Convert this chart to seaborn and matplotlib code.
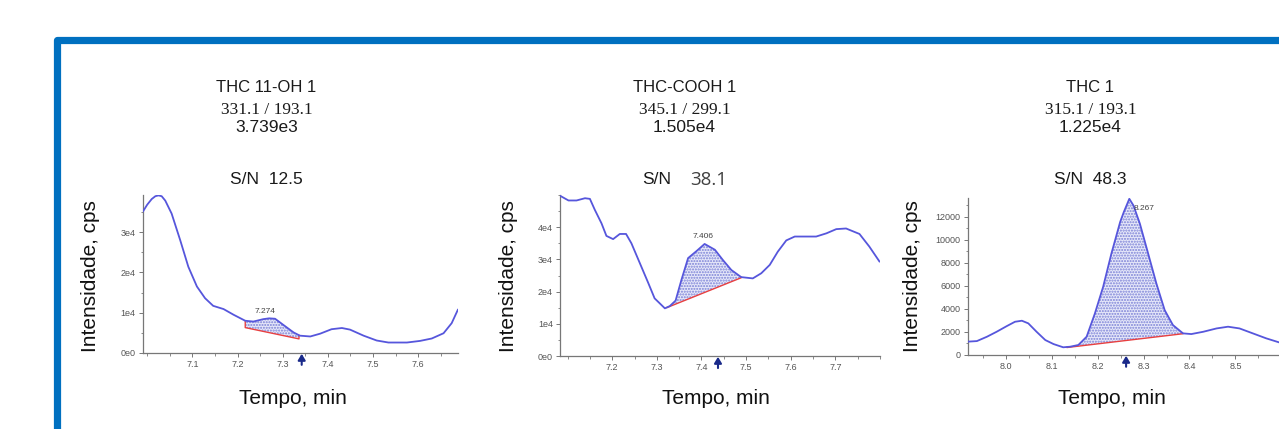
import numpy as np
import pandas as pd
import matplotlib
matplotlib.use("Agg")
import matplotlib.pyplot as plt
import seaborn as sns
from matplotlib.lines import Line2D
from matplotlib.transforms import IdentityTransform, blended_transform_factory
from matplotlib.ticker import MultipleLocator, FixedLocator

# ---------------- data ----------------
names = ["THC 11-OH 1", "THC-COOH 1", "THC 1"]
transitions = ["331.1 / 193.1", "345.1 / 299.1", "315.1 / 193.1"]
areas = ["3.739e3", "1.505e4", "1.225e4"]
sn_values = ["12.5", "38.1", "48.3"]
rt_labels = ["7.274", "7.406", "8.267"]

t1 = [6.990, 7.000, 7.010, 7.018, 7.025, 7.032, 7.040, 7.054, 7.073, 7.091, 7.110,
      7.128, 7.146, 7.169, 7.191, 7.217, 7.235, 7.257, 7.270, 7.283, 7.301, 7.324,
      7.338, 7.361, 7.383, 7.408, 7.431, 7.449, 7.479, 7.508, 7.534, 7.575, 7.604,
      7.630, 7.656, 7.674, 7.688]
i1 = [35000, 36800, 38200, 38900, 39100, 38900, 37800, 34600, 28000, 21400, 16500,
      13600, 11700, 10900, 9500, 8000, 7800, 8400, 8600, 8500, 7000, 5100,
      4300, 4100, 4800, 5900, 6200, 5800, 4300, 3100, 2600, 2600, 3000,
      3600, 4900, 7400, 10800]

t2 = [7.084, 7.102, 7.120, 7.139, 7.150, 7.161, 7.176, 7.187, 7.202, 7.217, 7.231,
      7.243, 7.262, 7.281, 7.295, 7.318, 7.329, 7.342, 7.355, 7.370, 7.389, 7.407,
      7.430, 7.448, 7.467, 7.489, 7.515, 7.534, 7.553, 7.571, 7.590, 7.609, 7.635,
      7.657, 7.680, 7.702, 7.724, 7.754, 7.776, 7.799]
i2 = [49700, 48300, 48300, 49000, 48800, 45400, 41200, 37300, 36300, 37900, 37900,
      35000, 28800, 22600, 17900, 14800, 15500, 17200, 23600, 30400, 32600, 34800,
      33000, 29800, 26700, 24500, 24100, 25700, 28300, 32400, 35900, 37100, 37100,
      37100, 38100, 39400, 39600, 37900, 34000, 29300]

t3 = [7.917, 7.937, 7.959, 7.980, 8.002, 8.020, 8.035, 8.049, 8.067, 8.086, 8.104,
      8.125, 8.140, 8.158, 8.176, 8.194, 8.212, 8.230, 8.249, 8.257, 8.269, 8.278,
      8.292, 8.310, 8.328, 8.346, 8.364, 8.386, 8.404, 8.430, 8.459, 8.484, 8.509,
      8.538, 8.567, 8.595]
i3 = [1160, 1210, 1590, 2020, 2510, 2890, 2980, 2750, 2020, 1300, 950,
      670, 720, 870, 1590, 3610, 5930, 8820, 11560, 12430, 13580, 13000,
      11420, 8820, 6210, 3900, 2600, 1880, 1820, 2020, 2310, 2460, 2310,
      1880, 1450, 1100]

times = [t1, t2, t3]
intens = [i1, i2, i3]

peak_start = [7.217, 7.322, 8.133]
peak_end = [7.336, 7.489, 8.386]
base_start = [6300, 15000, 650]
base_end = [3500, 24300, 1850]
label_x = [7.261, 7.404, 8.301]
label_y = [10300, 37100, 12700]
arrow_x = [7.342, 7.437, 8.262]

xticks = [[7.1, 7.2, 7.3, 7.4, 7.5, 7.6],
          [7.2, 7.3, 7.4, 7.5, 7.6, 7.7],
          [8.0, 8.1, 8.2, 8.3, 8.4, 8.5]]
yticks = [[0, 10000, 20000, 30000],
          [0, 10000, 20000, 30000, 40000],
          [0, 2000, 4000, 6000, 8000, 10000, 12000]]
ytick_labels = [["0e0", "1e4", "2e4", "3e4"],
                ["0e0", "1e4", "2e4", "3e4", "4e4"],
                ["0", "2000", "4000", "6000", "8000", "10000", "12000"]]
xlims = [(6.990, 7.688), (7.083, 7.800), (7.917, 8.595)]
ylims = [(0, 39200), (0, 50000), (0, 13650)]

# ---------------- layout ----------------
W, H = 1279, 429
sns.set_theme(style="white")
plt.rcParams["font.family"] = ["Liberation Sans", "DejaVu Sans"]

fig = plt.figure(figsize=(W / 100, H / 100), dpi=100)
fig.patch.set_facecolor("white")

# axes boxes in pixel coords: left, right, top, bottom
boxes = [(142.7, 458, 195, 353), (560, 880, 195, 356), (967.7, 1279, 198, 355)]
title_x = [266.5, 684.5, 1090.5]
ylabel_x = [90, 509, 913]
xlabel_x = [292.5, 716, 1112]

line_col = "#5656dc"
axis_col = "#777777"
tick_col = "#555555"


def fy(py):
    return 1 - py / H


for k in range(3):
    l, r, t, b = boxes[k]
    ax = fig.add_axes([l / W, fy(b), (r - l) / W, (b - t) / H])
    df = pd.DataFrame({"t": times[k], "i": intens[k]})
    sns.lineplot(data=df, x="t", y="i", ax=ax, color=line_col, lw=1.3,
                 estimator=None, sort=True, zorder=3)

    # integrated peak area
    tt = np.array(times[k])
    ii = np.array(intens[k])
    mask = (tt > peak_start[k]) & (tt < peak_end[k])
    xs = np.concatenate([[peak_start[k]], tt[mask], [peak_end[k]]])
    ys = np.interp(xs, tt, ii)
    bl = np.interp(xs, [peak_start[k], peak_end[k]], [base_start[k], base_end[k]])
    ax.fill_between(xs, bl, ys, facecolor="#e6e8f9", edgecolor="#7a80d6",
                    hatch="......", linewidth=0, zorder=2)
    ax.plot([peak_start[k], peak_start[k], peak_end[k], peak_end[k]],
            [ys[0], base_start[k], base_end[k], ys[-1]],
            color="#e84040", lw=1.0, zorder=2.5)

    ax.text(label_x[k], label_y[k], rt_labels[k], ha="center", va="center",
            fontsize=6, color="#444444", zorder=4)

    # apex arrow below the axis
    trans = blended_transform_factory(ax.transData, ax.transAxes)
    ax.annotate("", xy=(arrow_x[k], -0.005), xytext=(arrow_x[k], -0.075),
                xycoords=trans, textcoords=trans,
                arrowprops=dict(arrowstyle="-|>,head_width=0.18,head_length=0.3",
                                color="#1a2a8a", lw=1.5, shrinkA=0, shrinkB=0),
                annotation_clip=False)

    ax.set_xlim(*xlims[k])
    ax.set_ylim(*ylims[k])
    ax.xaxis.set_major_locator(FixedLocator(xticks[k]))
    ax.set_xticklabels([f"{v:.1f}" for v in xticks[k]])
    ax.xaxis.set_minor_locator(MultipleLocator(0.05))
    ax.yaxis.set_major_locator(FixedLocator(yticks[k]))
    ax.set_yticklabels(ytick_labels[k])
    step = yticks[k][1] - yticks[k][0]
    ax.yaxis.set_minor_locator(MultipleLocator(step / 2))
    ax.tick_params(which="major", direction="out", length=3, width=0.7,
                   colors=axis_col, labelcolor=tick_col, labelsize=6.5, pad=2,
                   bottom=True, left=True)
    ax.tick_params(which="minor", direction="out", length=1.8, width=0.6,
                   colors=axis_col, bottom=True, left=True)
    ax.set_xlabel("")
    ax.set_ylabel("")
    for s in ["top", "right"]:
        ax.spines[s].set_visible(False)
    for s in ["left", "bottom"]:
        ax.spines[s].set_color(axis_col)
        ax.spines[s].set_linewidth(0.9)
    ax.set_facecolor("none")

    # headings
    cx = title_x[k] / W
    fig.text(cx, fy(88), names[k], ha="center", va="center", fontsize=12, color="#1a1a1a")
    fig.text(cx, fy(110), transitions[k], ha="center", va="center", fontsize=12.5,
             family=["Liberation Serif", "DejaVu Serif"], color="#1a1a1a")
    fig.text(cx, fy(127), areas[k], ha="center", va="center", fontsize=12.5, color="#1a1a1a")
    if k == 1:
        fig.text(657 / W, fy(180), "S/N", ha="center", va="center", fontsize=12.5, color="#1a1a1a")
        fig.text(709 / W, fy(180), sn_values[k], ha="center", va="center", fontsize=13.5,
                 family=["Open Sans", "DejaVu Sans"], color="#404040")
    else:
        fig.text(cx, fy(180), "S/N  " + sn_values[k], ha="center", va="center",
                 fontsize=12.5, color="#1a1a1a")

    fig.text(ylabel_x[k] / W, fy(276), "Intensidade, cps", rotation=90, ha="center",
             va="center", fontsize=15, color="#111111")
    fig.text(xlabel_x[k] / W, fy(398), "Tempo, min", ha="center", va="center",
             fontsize=15, color="#111111")

# blue frame (display pixel coords, origin bottom-left)
frame = Line2D([56.7, 56.7, W + 20], [-20, H - 39.5, H - 39.5], color="#0070c0",
               lw=5.2, solid_joinstyle="round", solid_capstyle="butt",
               transform=IdentityTransform())
fig.add_artist(frame)

fig.savefig("out.png", dpi=100, facecolor="white")
